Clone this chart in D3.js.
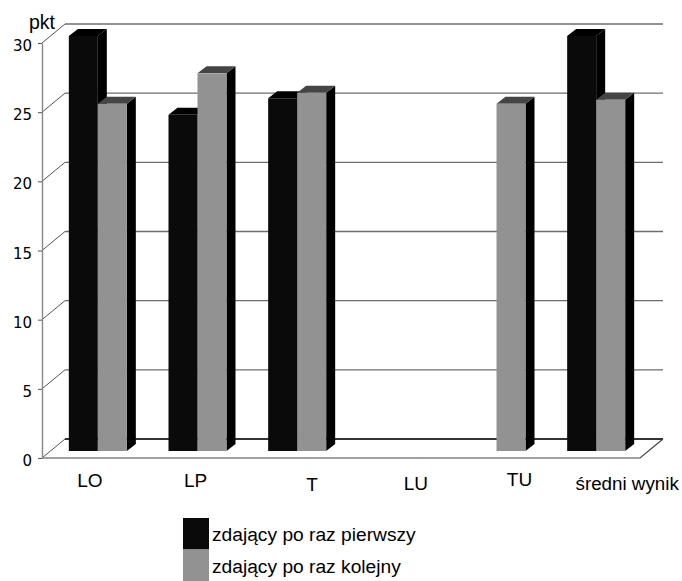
<!DOCTYPE html>
<html>
<head>
<meta charset="utf-8">
<script src="https://cdn.jsdelivr.net/npm/d3@7"></script>
<style>
  body { margin: 0; background: #fff; }
  text { font-family: "Liberation Sans", sans-serif; fill: #000; }
</style>
</head>
<body>
<svg></svg>
<script>
const categories = ["LO", "LP", "T", "LU", "TU", "średni wynik"];
const seriesNames = ["zdający po raz pierwszy", "zdający po raz kolejny"];
const firstTime = [30, 24.3, 25.5, null, null, 30];
const nextTime = [25.1, 27.3, 25.9, null, 25.1, 25.4];
const yTicks = [0, 5, 10, 15, 20, 25, 30];

const width = 682;
const height = 581;

// plot box (front plane) and how far the back wall is pushed
const plotLeft = 42, plotRight = 640, plotBottom = 458, plotTop = 43;
const wallX = 23, wallY = -19;
// bars stand a bit behind the front edge
const barX = 6, barY = -7, sideX = 9, sideY = -7;

const colors = [
  { front: "#0a0a0a", top: "#000", side: "#000" },
  { front: "#929292", top: "#454545", side: "#000" }
];

const svg = d3.select("svg").attr("width", width).attr("height", height);

const x = d3.scaleBand()
  .domain(categories)
  .range([plotLeft, plotRight])
  .paddingInner(0.418)
  .paddingOuter(0.209);

const xSeries = d3.scaleBand()
  .domain(d3.range(2))
  .range([0, x.bandwidth()]);

const y = d3.scaleLinear().domain([0, 30]).range([plotBottom, plotTop]);

// BACK WALL LINES + DIAGONALS
yTicks.forEach(t => {
  svg.append("line")
    .attr("x1", plotLeft + wallX).attr("x2", plotRight + wallX)
    .attr("y1", y(t) + wallY).attr("y2", y(t) + wallY)
    .attr("stroke", t === 0 ? "#333" : "#6e6e6e")
    .attr("stroke-width", t === 0 ? 2 : 1.4);
  svg.append("line")
    .attr("x1", plotLeft).attr("x2", plotLeft + wallX)
    .attr("y1", y(t)).attr("y2", y(t) + wallY)
    .attr("stroke", "#555")
    .attr("stroke-width", 1);
});

// FLOOR FRONT EDGE
svg.append("path")
  .attr("d", `M${plotLeft},${y(0)}H${plotRight}L${plotRight + wallX},${y(0) + wallY}`)
  .attr("fill", "none")
  .attr("stroke", "#444")
  .attr("stroke-width", 1.2);

// Y AXIS
const yAxis = d3.axisLeft(y)
  .tickValues(yTicks)
  .tickSize(4)
  .tickPadding(6)
  .tickSizeOuter(0);

const yG = svg.append("g")
  .attr("transform", `translate(${plotLeft}, 0)`)
  .call(yAxis);
yG.select(".domain").attr("stroke", "#888").attr("stroke-width", 1.4);
yG.selectAll(".tick line").attr("stroke", "#555");
yG.selectAll("text")
  .attr("dy", "0.5em")
  .style("font-family", "'DejaVu Sans'")
  .style("font-size", "15px")
  .attr("fill", "#111");

svg.append("text")
  .attr("x", 29)
  .attr("y", 29)
  .style("font-size", "19.5px")
  .text("pkt");

// BARS
const bars = [];
categories.forEach((c, i) => {
  [firstTime[i], nextTime[i]].forEach((v, s) => {
    if (v !== null) bars.push({ c, s, v });
  });
});

const barG = svg.selectAll(".bar")
  .data(bars)
  .enter()
  .append("g")
    .attr("class", "bar");

const bx0 = d => x(d.c) + xSeries(d.s) + barX;
const bx1 = d => bx0(d) + xSeries.bandwidth();
const by0 = () => y(0) + barY;
const by1 = d => y(d.v) + barY;

barG.append("path")
  .attr("fill", d => colors[d.s].side)
  .attr("d", d => `M${bx1(d)},${by1(d)}L${bx1(d) + sideX},${by1(d) + sideY}V${by0() + sideY}L${bx1(d)},${by0()}Z`);

barG.append("path")
  .attr("fill", d => colors[d.s].top)
  .attr("d", d => `M${bx0(d)},${by1(d)}L${bx0(d) + sideX},${by1(d) + sideY}H${bx1(d) + sideX}L${bx1(d)},${by1(d)}Z`);

barG.append("rect")
  .attr("fill", d => colors[d.s].front)
  .attr("x", bx0)
  .attr("y", by1)
  .attr("width", xSeries.bandwidth())
  .attr("height", d => by0() - by1(d));

// CATEGORY LABELS (they sit unevenly in the original)
const labelDx = [-2, 4, 21, 25, 29, 37];
const labelY = [487, 487, 491, 490, 486, 490];
const labelSize = [19, 19, 19, 19, 19, 18.8];

svg.selectAll(".cat")
  .data(categories)
  .enter()
  .append("text")
    .attr("class", "cat")
    .attr("x", (d, i) => x(d) + x.bandwidth() / 2 + labelDx[i])
    .attr("y", (d, i) => labelY[i])
    .style("text-anchor", "middle")
    .style("font-size", (d, i) => labelSize[i] + "px")
    .text(d => d);

// LEGEND
const legendY = d3.scaleBand().domain(d3.range(2)).range([518, 581]);

svg.selectAll(".swatch")
  .data(seriesNames)
  .enter()
  .append("rect")
    .attr("class", "swatch")
    .attr("x", 183)
    .attr("y", (d, i) => legendY(i))
    .attr("width", 26)
    .attr("height", legendY.bandwidth())
    .attr("fill", (d, i) => colors[i].front);

svg.selectAll(".legend")
  .data(seriesNames)
  .enter()
  .append("text")
    .attr("class", "legend")
    .attr("x", 212)
    .attr("y", (d, i) => legendY(i) + 23)
    .style("font-size", "19.2px")
    .text(d => d);
</script>
</body>
</html>
